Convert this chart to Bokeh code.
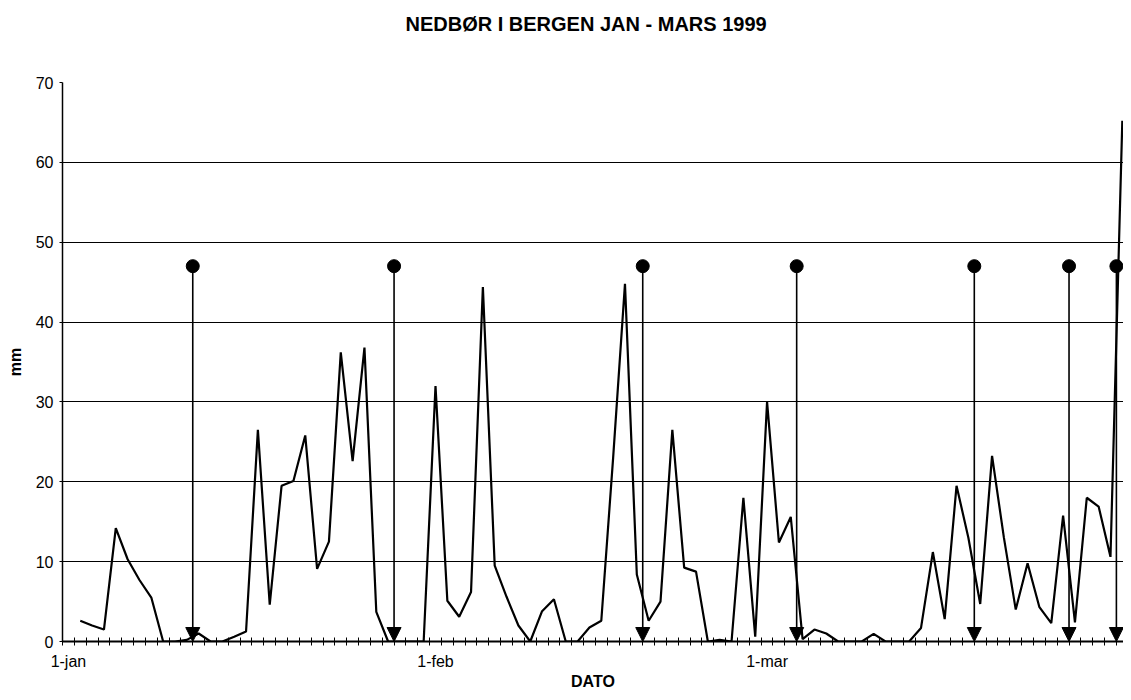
from bokeh.plotting import figure
from bokeh.models import Range1d, FixedTicker, Arrow, NormalHead, ColumnDataSource, Title
from bokeh.embed import file_html
from bokeh.resources import INLINE

nan = float("nan")

# daily precipitation (mm), 1 Jan .. 31 Mar 1999 (day index 0..89)
precip = [nan, 2.6, 2.0, 1.5, 14.2, 10.3, 7.7, 5.5, 0, 0,
          0.2, 1.0, 0, 0, 0.6, 1.25, 26.5, 4.6, 19.5, 20.1,
          25.8, 9.1, 12.5, 36.2, 22.6, 36.8, 3.7, 0, 0, 0,
          0, 32.0, 5.1, 3.1, 6.2, 44.4, 9.5, 5.6, 2.0, 0,
          3.8, 5.3, 0, 0, 1.75, 2.6, 23.0, 44.8, 8.4, 2.6,
          5.0, 26.5, 9.25, 8.75, 0, 0.2, 0, 18.0, 0.6, 30.0,
          12.4, 15.6, 0.3, 1.5, 1.0, 0, 0, 0, 0.95, 0,
          0, 0, 1.7, 11.2, 2.8, 19.5, 13.0, 4.7, 23.25, 13.0,
          4.0, 9.8, 4.3, 2.3, 15.75, 2.4, 18.0, 16.9, 10.6, 65.2]

# event markers (day boundary index) drawn as arrows from a dot down to the axis
event_day = [11, 28, 49, 62, 77, 85, 89]
event_top = [47, 47, 47, 47, 47, 47, 47]
event_bottom = [0, 0, 0, 0, 0, 0, 0]

tick_days = [0, 31, 59]
tick_labels = ["1-jan", "1-feb", "1-mar"]
y_ticks = [0, 10, 20, 30, 40, 50, 60, 70]

title_text = "NEDBØR I BERGEN  JAN - MARS 1999"
x_title = "DATO"
y_title = "mm"

n_days = len(precip)
day_center = [d + 0.5 for d in range(n_days)]

FONT = "Liberation Sans"

p = figure(width=1123, height=692, output_backend="svg", toolbar_location=None,
           x_range=Range1d(0, 89.6), y_range=Range1d(0, 70),
           min_border_left=62, min_border_right=0, min_border_top=82, min_border_bottom=49)
p.outline_line_color = None
p.background_fill_color = "white"
p.border_fill_color = "white"

# main title (outermost)
p.title.text = title_text
p.title.align = "left"
p.title.offset = 343
p.title.vertical_align = "bottom"
p.title.standoff = 0
p.title.text_font = FONT
p.title.text_font_size = "20px"
p.title.text_font_style = "bold"
p.title.text_color = "black"
# spacer title between the frame and the main title
p.add_layout(Title(text=" ", text_font_size="1px", standoff=45), "above")

# grid
p.xgrid.grid_line_color = None
p.ygrid.ticker = FixedTicker(ticks=y_ticks)
p.ygrid.grid_line_color = "black"
p.ygrid.grid_line_width = 1

# x axis
xa = p.xaxis[0]
xa.ticker = FixedTicker(ticks=[d + 0.5 for d in tick_days], minor_ticks=list(range(n_days + 1)))
xa.major_label_overrides = {d + 0.5: lab for d, lab in zip(tick_days, tick_labels)}
xa.major_tick_line_color = None
xa.major_tick_in = 0
xa.major_tick_out = 4
xa.minor_tick_in = 4
xa.minor_tick_out = 4
xa.minor_tick_line_color = "black"
xa.minor_tick_line_width = 1
xa.axis_line_color = "black"
xa.axis_line_width = 2
xa.major_label_standoff = 7
xa.major_label_text_font = FONT
xa.major_label_text_font_size = "16px"
xa.major_label_text_color = "black"
xa.axis_label = x_title
xa.axis_label_text_font = FONT
xa.axis_label_text_font_size = "16px"
xa.axis_label_text_font_style = "bold"
xa.axis_label_text_color = "black"
xa.axis_label_standoff = 0

# y axis
ya = p.yaxis[0]
ya.ticker = FixedTicker(ticks=y_ticks)
ya.minor_tick_line_color = None
ya.major_tick_in = 0
ya.major_tick_out = 3
ya.major_tick_line_color = "black"
ya.axis_line_color = "black"
ya.axis_line_width = 1.5
ya.major_label_standoff = 6
ya.major_label_text_font = FONT
ya.major_label_text_font_size = "16px"
ya.major_label_text_color = "black"
ya.axis_label = y_title
ya.axis_label_text_font = FONT
ya.axis_label_text_font_size = "16px"
ya.axis_label_text_font_style = "bold"
ya.axis_label_text_color = "black"
ya.axis_label_standoff = 9

# precipitation line
p.line(x=day_center, y=precip, line_color="black", line_width=2.2)

# event arrows
src = ColumnDataSource(dict(x=event_day, y0=event_top, y1=event_bottom))
p.add_layout(Arrow(end=NormalHead(size=14, fill_color="black", line_color="black"),
                   x_start="x", y_start="y0", x_end="x", y_end="y1",
                   source=src, line_color="black", line_width=1.6))
p.scatter(x=event_day, y=event_top, size=13, marker="circle", color="black")

open("out.html", "w").write(file_html(p, INLINE))
